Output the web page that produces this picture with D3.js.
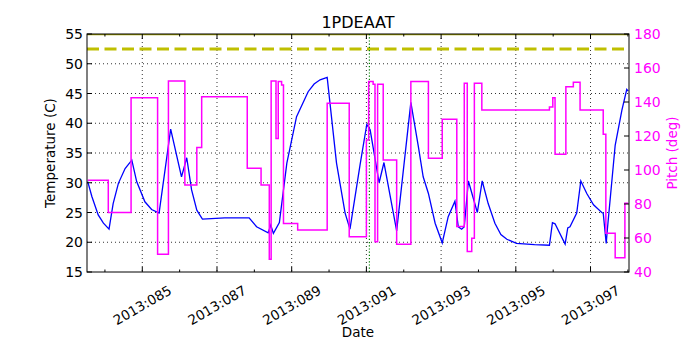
<!DOCTYPE html>
<html>
<head>
<meta charset="utf-8">
<script src="https://cdn.jsdelivr.net/npm/d3@7"></script>
<style>
  body { margin: 0; background: #fff; }
  text { font-family: 'DejaVu Sans', sans-serif; }
</style>
</head>
<body>
<div id="root"></div>
<script>
// temperature (blue), day of year 2013
const tempDays = [83.54, 83.65, 83.82, 83.96, 84.11, 84.22, 84.36, 84.54, 84.72, 84.85, 85.07, 85.25, 85.45,
    85.76, 86.05, 86.19, 86.32, 86.46, 86.61,
    87.21, 87.86, 88.06, 88.37, 88.44, 88.51, 88.67, 88.87, 89.13, 89.44, 89.60, 89.76, 89.95, 90.20, 90.43, 90.56,
    90.83, 91.01, 91.10, 91.34, 91.47, 91.81, 92.19, 92.39, 92.52, 92.66, 92.84, 93.03, 93.19, 93.37, 93.46,
    93.55, 93.62, 93.73, 93.97, 94.10, 94.26, 94.44, 94.60, 94.76, 95.02, 95.50, 95.90, 95.98, 96.05, 96.32,
    96.39, 96.45, 96.63, 96.74, 96.90, 97.08, 97.30, 97.34, 97.42, 97.45, 97.66, 97.84, 97.97, 98.01];
const tempVals = [30.2, 27.7, 24.6, 23.2, 22.2, 26.5, 29.9, 32.4, 33.8, 30.2, 26.8, 25.5, 24.9,
    39.0, 31.0, 34.2, 28.8, 25.4, 23.9,
    24.1, 24.1, 22.6, 21.6, 22.9, 21.5, 23.3, 33.3, 41.1, 45.3, 46.6, 47.3, 47.7, 33.3, 24.9, 22.2,
    33.0, 39.8, 38.9, 30.0, 33.4, 21.9, 43.5, 36.1, 31.0, 28.2, 23.2, 19.9, 24.3, 26.9, 22.6,
    22.2, 22.6, 30.3, 25.0, 30.3, 26.5, 23.2, 21.3, 20.5, 19.8, 19.6, 19.5, 23.3, 23.1, 19.7,
    22.4, 22.6, 24.9, 30.3, 28.2, 26.3, 25.0, 24.9, 19.8, 22.1, 36.3, 42.2, 45.7, 45.4];

// pitch (magenta), step-after
const pitchDays = [83.54, 84.09, 84.70, 85.41, 85.70, 86.14, 86.46, 86.59, 87.81, 88.18, 88.40, 88.45,
    88.58, 88.64, 88.73, 88.78, 89.16, 89.95, 90.54, 91.00, 91.06, 91.18, 91.23, 91.30, 91.45, 91.81,
    92.19, 92.66, 93.03, 93.42, 93.62, 93.70, 93.82, 93.89, 94.09, 95.90, 95.99, 96.05, 96.34, 96.54,
    96.72, 97.34, 97.41, 97.66, 97.92, 98.01];
const pitchVals = [94, 75, 142.5, 50.4, 152.4, 91.2, 113.3, 143.1, 101, 91.2, 47.5, 152.4,
    118.6, 152, 150, 68.6, 64.7, 139.2, 60.8, 117.6, 152, 150.5, 57.8, 150.4, 105.9, 56.3,
    152, 106.9, 129.8, 66.7, 151, 52, 59.8, 151, 135.3, 137, 142.5, 109.2, 149, 151.6,
    135.3, 121, 62.8, 48.4, 80.4, 80.4];

const majorDays = [85, 87, 89, 91, 93, 95, 97];
const minorDays = [84, 86, 88, 90, 92, 94, 96, 98];
const tempTicks = [15, 20, 25, 30, 35, 40, 45, 50, 55];
const pitchTicks = [40, 60, 80, 100, 120, 140, 160, 180];
const planLimit = 52.5;
const eventDay = 91.08;

const W = 700;
const H = 350;
const M = { left: 87, right: 629, top: 34, bottom: 272 };
const magenta = '#ff00ff';

const svg = d3.select('#root')
    .append('svg')
    .attr('width', W)
    .attr('height', H);

const x = d3.scaleLinear().domain([83.52, 98.03]).range([M.left, M.right]);
const yT = d3.scaleLinear().domain([15, 55]).range([M.bottom, M.top]);
const yP = d3.scaleLinear().domain([40, 180]).range([M.bottom, M.top]);

svg.append('clipPath').attr('id', 'plot')
    .append('rect')
    .attr('x', M.left).attr('y', M.top)
    .attr('width', M.right - M.left).attr('height', M.bottom - M.top);

const plot = svg.append('g').attr('clip-path', 'url(#plot)');

// grid
plot.selectAll('line.vg')
    .data(majorDays)
    .join('line')
    .attr('class', 'vg')
    .attr('x1', d => x(d)).attr('x2', d => x(d))
    .attr('y1', M.top).attr('y2', M.bottom)
    .attr('stroke', '#000').attr('stroke-width', 0.8)
    .attr('stroke-dasharray', '1,3');

plot.selectAll('line.hg')
    .data(tempTicks.slice(1, -1))
    .join('line')
    .attr('class', 'hg')
    .attr('x1', M.left).attr('x2', M.right)
    .attr('y1', d => yT(d)).attr('y2', d => yT(d))
    .attr('stroke', '#000').attr('stroke-width', 0.8)
    .attr('stroke-dasharray', '1,3');

// yellow limit lines
plot.append('line')
    .attr('x1', M.left).attr('x2', M.right)
    .attr('y1', yT(55)).attr('y2', yT(55))
    .attr('stroke', '#a8a800').attr('stroke-width', 2.5);

plot.append('line')
    .attr('x1', M.left).attr('x2', M.right)
    .attr('y1', yT(planLimit)).attr('y2', yT(planLimit))
    .attr('stroke', '#bfbf00').attr('stroke-width', 3)
    .attr('stroke-dasharray', '12,5.5');

// green event marker
plot.append('line')
    .attr('x1', x(eventDay)).attr('x2', x(eventDay))
    .attr('y1', M.top).attr('y2', M.bottom)
    .attr('stroke', '#008000').attr('stroke-width', 1.2)
    .attr('stroke-dasharray', '1.2,2');

const tempLine = d3.line()
    .x((d, k) => x(tempDays[k]))
    .y(d => yT(d));

plot.append('path')
    .attr('d', tempLine(tempVals))
    .attr('fill', 'none')
    .attr('stroke', '#0000ff')
    .attr('stroke-width', 1.3);

const pitchLine = d3.line()
    .x((d, k) => x(pitchDays[k]))
    .y(d => yP(d))
    .curve(d3.curveStepAfter);

plot.append('path')
    .attr('d', pitchLine(pitchVals))
    .attr('fill', 'none')
    .attr('stroke', magenta)
    .attr('stroke-width', 1.5);

// frame
svg.append('rect')
    .attr('x', M.left).attr('y', M.top)
    .attr('width', M.right - M.left).attr('height', M.bottom - M.top)
    .attr('fill', 'none').attr('stroke', '#000').attr('stroke-width', 1);

// x ticks, inward on bottom and top
const xTicks = [...majorDays.map(d => ({ d, len: 5 })), ...minorDays.map(d => ({ d, len: 2.5 }))]
    .filter(t => x(t.d) > M.left && x(t.d) < M.right);

svg.selectAll('line.xb')
    .data(xTicks)
    .join('line')
    .attr('class', 'xb')
    .attr('x1', t => x(t.d)).attr('x2', t => x(t.d))
    .attr('y1', M.bottom).attr('y2', t => M.bottom - t.len)
    .attr('stroke', '#000');

svg.selectAll('line.xt')
    .data(xTicks)
    .join('line')
    .attr('class', 'xt')
    .attr('x1', t => x(t.d)).attr('x2', t => x(t.d))
    .attr('y1', M.top).attr('y2', t => M.top + t.len)
    .attr('stroke', '#000');

svg.selectAll('text.xl')
    .data(majorDays)
    .join('text')
    .attr('class', 'xl')
    .attr('transform', d => `translate(${x(d)},305) rotate(-30)`)
    .attr('text-anchor', 'middle')
    .attr('dominant-baseline', 'central')
    .style('font-size', '13.5px')
    .text(d => `2013:${String(d).padStart(3, '0')}`);

// left axis
svg.selectAll('line.yl')
    .data(tempTicks)
    .join('line')
    .attr('class', 'yl')
    .attr('x1', M.left).attr('x2', M.left + 5)
    .attr('y1', d => yT(d)).attr('y2', d => yT(d))
    .attr('stroke', '#000');

svg.selectAll('text.ylt')
    .data(tempTicks)
    .join('text')
    .attr('class', 'ylt')
    .attr('x', M.left - 4)
    .attr('y', d => yT(d))
    .attr('text-anchor', 'end')
    .attr('dominant-baseline', 'central')
    .style('font-size', '14px')
    .text(d => d);

// right axis
svg.selectAll('line.yr')
    .data(pitchTicks)
    .join('line')
    .attr('class', 'yr')
    .attr('x1', M.right).attr('x2', M.right - 5)
    .attr('y1', d => yP(d)).attr('y2', d => yP(d))
    .attr('stroke', '#000');

svg.selectAll('text.yrt')
    .data(pitchTicks)
    .join('text')
    .attr('class', 'yrt')
    .attr('x', M.right + 5)
    .attr('y', d => yP(d))
    .attr('dominant-baseline', 'central')
    .attr('fill', magenta)
    .style('font-size', '14px')
    .text(d => d);

// labels
svg.append('text')
    .attr('x', (M.left + M.right) / 2)
    .attr('y', 28)
    .attr('text-anchor', 'middle')
    .style('font-size', '16px')
    .text('1PDEAAT');

svg.append('text')
    .attr('x', (M.left + M.right) / 2)
    .attr('y', 337)
    .attr('text-anchor', 'middle')
    .style('font-size', '13.5px')
    .text('Date');

svg.append('text')
    .attr('transform', `translate(50,${(M.top + M.bottom) / 2}) rotate(-90)`)
    .attr('text-anchor', 'middle')
    .attr('dominant-baseline', 'central')
    .style('font-size', '13.5px')
    .text('Temperature (C)');

svg.append('text')
    .attr('transform', `translate(672,${(M.top + M.bottom) / 2}) rotate(-90)`)
    .attr('text-anchor', 'middle')
    .attr('dominant-baseline', 'central')
    .attr('fill', magenta)
    .style('font-size', '13.5px')
    .text('Pitch (deg)');
</script>
</body>
</html>
